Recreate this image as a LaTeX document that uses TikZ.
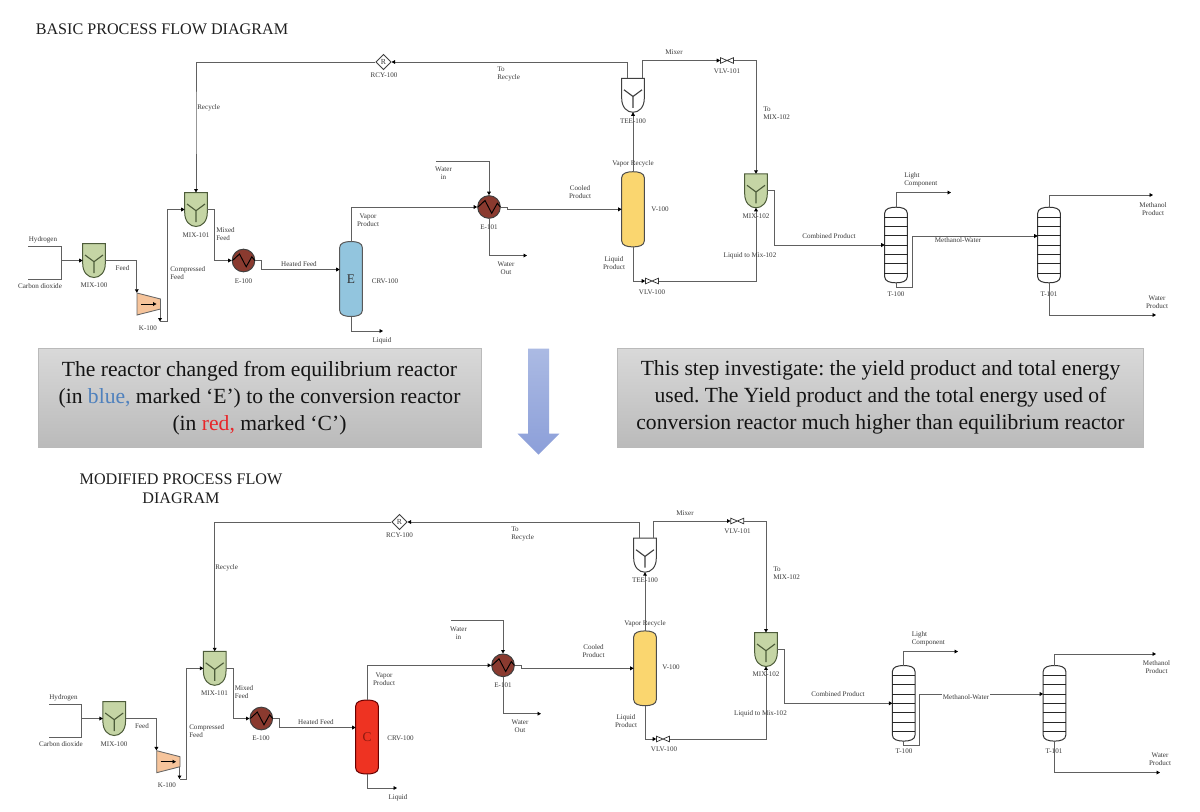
\documentclass[tikz,border=0pt]{standalone}
\usepackage{fontspec}
\setmainfont{Liberation Serif}
\usetikzlibrary{arrows.meta,calc,shapes.geometric}
\newcounter{labn}
\frenchspacing
\definecolor{lineg}{HTML}{606060}
\definecolor{labg}{HTML}{3A3A3A}
\definecolor{mixf}{HTML}{C5D5A5}
\definecolor{mixe}{HTML}{4D5C3A}
\definecolor{compf}{HTML}{F6C49B}
\definecolor{hxf}{HTML}{8A3A2F}
\definecolor{bluef}{HTML}{92C5DE}
\definecolor{redf}{HTML}{EE3322}
\definecolor{yelf}{HTML}{FAD66F}
\definecolor{arrtop}{HTML}{ABBAE3}
\definecolor{arrbot}{HTML}{8C9FD9}
\tikzset{
  x=0.75pt,y=-0.75pt,
  flow/.style={draw=lineg,line width=0.75pt,line join=miter},
  flowa/.style={flow,-{Triangle[length=2.6pt,width=2.8pt,fill=black,color=black]}},
  lbl/.style={inner sep=0pt,text=labg,font=\fontsize{5.3}{6}\selectfont},
  anchorbox/.style={inner sep=0pt,outer sep=0pt,minimum width=16.95pt},
  unitline/.style={line width=0.75pt},
  banner/.style={top color=black!15,bottom color=black!27,draw=black!27,line width=0.6pt},
  bannertext/.style={inner sep=0pt,align=center,text=black!92,font=\fontsize{16.2}{20.3}\selectfont},
  title/.style={inner sep=0pt,align=center,text=black!88,font=\fontsize{12.1}{14}\selectfont},
}
\newcommand{\lab}[3]{\stepcounter{labn}\node[lbl,align=center] (lab\arabic{labn}) at (#1,#2) {#3};}
\newcommand{\labl}[3]{\stepcounter{labn}\node[lbl,align=left,anchor=west] (lab\arabic{labn}) at (#1,#2) {#3};}
% name, x, y, fill, edge
\newcommand{\mixunit}[5]{%
  \node[anchorbox,minimum height=25.5pt] (#1) at (#2,#3) {};
  \begin{scope}[shift={(#2,#3)}]
    \draw[unitline,draw=#5,fill=#4] (-11.3,-17) -- (11.3,-17) -- (11.3,3)
      .. controls (11.3,12) and (6,17) .. (0,17) .. controls (-6,17) and (-11.3,12) .. (-11.3,3) -- cycle;
    \draw[draw=#5,line width=0.85pt] (-9,-5.5) -- (0,1.2) -- (9,-5.5) (0,1.2) -- (0,12.5);
  \end{scope}}
% name, x, y, half height, fill, edge, letter
\newcommand{\drum}[7]{%
  \begin{scope}[shift={(#2,#3)}]
    \draw[unitline,draw=#6,fill=#5] (-11.3,-#4+6) .. controls (-11.3,-#4+1.5) and (-6,-#4) .. (0,-#4)
      .. controls (6,-#4) and (11.3,-#4+1.5) .. (11.3,-#4+6) -- (11.3,#4-6)
      .. controls (11.3,#4-1.5) and (6,#4) .. (0,#4) .. controls (-6,#4) and (-11.3,#4-1.5) .. (-11.3,#4-6) -- cycle;
  \end{scope}
  \node[anchorbox,minimum height=#4*1.5pt,font=\fontsize{10}{10}\selectfont] (#1) at (#2,#3) {#7};}
\newcommand{\column}[3]{%
  \drum{#1}{#2}{#3}{37.8}{white}{black!80}{}
  \begin{scope}[shift={(#2,#3)}]
    \foreach \t in {-28,-18.7,-9.3,0,9.3,18.7,28} \draw[line width=0.65pt,black!85] (-11.6,\t) -- (11.6,\t);
  \end{scope}}
\newcommand{\hx}[3]{%
  \node[circle,inner sep=0pt,minimum size=17pt,draw=black!75,line width=0.75pt,fill=hxf] (#1) at (#2,#3) {};
  \begin{scope}[shift={(#2,#3)}]
    \draw[black,line width=0.7pt] (-11,0) -- (-4,-6.5) -- (2.7,6.3) -- (8.3,-3.7) -- (11.3,0);
  \end{scope}}
\newcommand{\valve}[3]{%
  \node[inner sep=0pt,minimum width=9.8pt,minimum height=4.2pt] (#1) at (#2,#3) {};
  \begin{scope}[shift={(#2,#3)}]
    \draw[line width=0.55pt,black!80,fill=white] (-6.5,-2.8) -- (6.5,2.8) -- (6.5,-2.8) -- (-6.5,2.8) -- cycle;
  \end{scope}}
\newcommand{\recy}[3]{%
  \node[diamond,inner sep=0pt,minimum size=11.5pt,draw=black!75,line width=0.6pt,fill=white,text=labg,font=\fontsize{5.8}{6}\selectfont] (#1) at (#2,#3) {R};}
\newcommand{\comp}[7]{% name, x left, x right, y top-left, y bottom-left, y top-right, y bottom-right
  \node[inner sep=0pt,minimum width=17.5pt,minimum height=16.5pt] (#1) at ({(#2+#3)/2},{(#4+#5)/2}) {};
  \draw[line width=0.65pt,draw=black!60,fill=compf] (#2,#4) -- (#3,#6) -- (#3,#7) -- (#2,#5) -- cycle;
  \draw[-{Triangle[length=2.6pt,width=2.8pt]},line width=0.7pt,black] ({#2+4},{(#4+#5)/2}) -- ({#3-4},{(#4+#5)/2});}
\begin{document}
\begin{tikzpicture}
\useasboundingbox (0,0) rectangle (1200,811);
\fill[white] (0,0) rectangle (1200,811);
% ---------- titles
\node[title] (title1) at (162,29) {BASIC PROCESS FLOW DIAGRAM};
\node[title] (title2) at (181,489) {MODIFIED PROCESS FLOW\\DIAGRAM};
% ---------- banners
\node[banner,inner sep=0pt,minimum width=332.25pt,minimum height=74.5pt] (box1) at (259.5,398) {};
\node[bannertext] (txt1) at (259.5,398.5) {The reactor changed from equilibrium reactor\\(in \textcolor[HTML]{4F81BD}{blue,} marked ‘E’) to the conversion reactor\\(in \textcolor[HTML]{E8262A}{red,} marked ‘C’)};
\node[banner,inner sep=0pt,minimum width=394.5pt,minimum height=74.5pt] (box2) at (880.5,398) {};
\node[bannertext] (txt2) at (880.5,397) {This step investigate: the yield product and total energy\\used. The Yield product and the total energy used of\\conversion reactor much higher than equilibrium reactor};
\path[top color=arrtop,bottom color=arrbot,draw=none]
  (528,348.5) -- (549,348.5) -- (549,433.7) -- (559.3,433.7) -- (538.5,454.5) -- (517.7,433.7) -- (528,433.7) -- cycle;
% ========== UPPER SHEET
\mixunit{am100}{94}{260.5}{mixf}{mixe}
\mixunit{am101}{196}{209.5}{mixf}{mixe}
\mixunit{am102}{756}{190.8}{mixf}{mixe}
\mixunit{atee}{633}{95.3}{white}{black!75}
\comp{ak}{137}{160.5}{293}{315}{299}{309}
\hx{ae100}{243.5}{260.5}
\hx{ae101}{489}{207}
\drum{acrv}{351}{279}{37.5}{bluef}{black!65}{\raisebox{-2.2pt}{\color{black!80}E}}
\drum{av}{633}{209.3}{37.6}{yelf}{black!70}{}
\column{at100}{896}{245}
\column{at101}{1049}{245}
\valve{avlv1}{727}{60.5}
\valve{avlv0}{652}{281}
\recy{arcy}{383.5}{62}
\coordinate (aH) at (28,246.5);
\coordinate (aC) at (28,279);
\coordinate (aJ) at (61,260.5);
\coordinate (akout) at (160,309);
\coordinate (aktip) at (160,321.5);
\coordinate (aWin) at (436,161.5);
\coordinate (aWout) at (527,255.5);
\coordinate (aLiq) at (383,331);
\coordinate (aLight) at (951,192.5);
\coordinate (aMeth) at (1153,195);
\coordinate (aWat) at (1156,315);
\draw[flow] (aH) -- (61,246.5) -- (61,279) -- (aC);
\draw[flowa] (aJ) -- (am100.west);
\draw[flowa] (am100.east) -| (ak.north west);
\draw[flowa] (akout) -- (aktip);
\draw[flowa] (aktip) -- (167,321.5) -- (167,209.5) -- (am101.west);
\draw[flowa] (am101.east) -- (214.5,209.5) -- (214.5,260.5) -- (ae100.west);
\draw[flowa] (ae100.east) -- (261.5,260.5) -- (261.5,269.5) -- ($(acrv.west)+(0,-9.5)$);
\draw[flowa] (acrv.north) -- (351,207) -- (ae101.west);
\draw[flowa] (acrv.south) |- (aLiq);
\draw[flowa] (aWin) -| (ae101.north);
\draw[flowa] (ae101.south) |- (aWout);
\draw[flowa] (ae101.east) -- (507,207) -- (507,209.3) -- (av.west);
\draw[flowa] (av.north) -- (atee.south);
\draw[flowa] ($(atee.north)+(-6,0)$) |- (arcy.east);
\draw[flowa] (arcy.west) -| (196,120) -- (am101.north);
\draw[flowa] ($(atee.north)+(9,0)$) |- (avlv1.west);
\draw[flowa] (avlv1.east) -| (am102.north);
\draw[flowa] (av.south) |- (avlv0.west);
\draw[flowa] (avlv0.east) -| (am102.south);
\draw[flowa] (am102.east) -- (774.5,190.8) -- (774.5,245) -- (at100.west);
\draw[flowa] (at100.north) |- (aLight);
\draw[flowa] (at100.south) -- (896,287.5) -- (912,287.5) -- (912,236) -- ($(at101.west)+(0,-9)$);
\draw[flowa] (at101.north) |- (aMeth);
\draw[flowa] (at101.south) |- (aWat);
\lab{43}{240}{Hydrogen}
\lab{40}{286.5}{Carbon dioxide}
\lab{94}{285.5}{MIX-100}
\lab{122.5}{268}{Feed}
\lab{148}{328}{K-100}
\labl{170}{273.5}{Compressed\\Feed}
\lab{196}{235}{MIX-101}
\labl{216}{234}{Mixed\\Feed}
\lab{243.5}{281}{E-100}
\lab{299}{264}{Heated Feed}
\lab{368}{220.5}{Vapor\\Product}
\lab{385}{281.5}{CRV-100}
\lab{382}{341}{Liquid}
\labl{197}{107.5}{Recycle}
\lab{384}{75.5}{RCY-100}
\labl{497}{74}{To\\Recycle}
\lab{674}{52}{Mixer}
\lab{727}{71.5}{VLV-101}
\labl{763}{113.5}{To\\MIX-102}
\lab{633}{121}{TEE-100}
\lab{633}{164}{Vapor Recycle}
\lab{443.5}{173.5}{Water\\in}
\lab{580}{192.5}{Cooled\\Product}
\lab{660}{209.5}{V-100}
\lab{489}{227.5}{E-101}
\lab{506}{268}{Water\\Out}
\lab{614}{263.5}{Liquid\\Product}
\lab{652}{292}{VLV-100}
\lab{750}{255.5}{Liquid to Mix-102}
\lab{756}{216.5}{MIX-102}
\lab{829}{236}{Combined Product}
\labl{904}{180}{Light\\Component}
\lab{958}{240}{Methanol-Water}
\lab{896}{294}{T-100}
\lab{1049}{294}{T-101}
\lab{1153}{209}{Methanol\\Product}
\lab{1157}{302}{Water\\Product}
% ========== LOWER SHEET
\mixunit{bm100}{114.2}{718.5}{mixf}{mixe}
\mixunit{bm101}{214.7}{668.3}{mixf}{mixe}
\mixunit{bm102}{766}{649.5}{mixf}{mixe}
\mixunit{btee}{645}{555.2}{white}{black!75}
\comp{bk}{156.7}{180}{750.7}{772.7}{756.7}{766.7}
\hx{be100}{261.3}{718.5}
\hx{be101}{503}{665.3}
\drum{bcrv}{367}{737}{37}{redf}{black!60!red}{\raisebox{-2.2pt}{\color[HTML]{8B1A10}C}}
\drum{bv}{645}{668.3}{37.4}{yelf}{black!70}{}
\column{bt100}{903.7}{703.3}
\column{bt101}{1054.5}{703.3}
\valve{bvlv1}{737.3}{521}
\valve{bvlv0}{663}{739}
\recy{brcy}{399.5}{522}
\coordinate (bH) at (49,704.5);
\coordinate (bC) at (49,737);
\coordinate (bJ) at (81.5,718.5);
\coordinate (bkout) at (179.5,767);
\coordinate (bktip) at (179.5,779);
\coordinate (bWin) at (451,620.7);
\coordinate (bWout) at (541,713.7);
\coordinate (bLiq) at (397,788);
\coordinate (bLight) at (958,651.5);
\coordinate (bMeth) at (1156,654);
\coordinate (bWat) at (1160,772.5);
\draw[flow] (bH) -- (81.5,704.5) -- (81.5,737) -- (bC);
\draw[flowa] (bJ) -- (bm100.west);
\draw[flowa] (bm100.east) -| (bk.north west);
\draw[flowa] (bkout) -- (bktip);
\draw[flowa] (bktip) -- (186,779) -- (186,668.3) -- (bm101.west);
\draw[flowa] (bm101.east) -- (233,668.3) -- (233,718.5) -- (be100.west);
\draw[flowa] (be100.east) -- (279.5,718.5) -- (279.5,727.5) -- ($(bcrv.west)+(0,-9.5)$);
\draw[flowa] (bcrv.north) -- (367,665.3) -- (be101.west);
\draw[flowa] (bcrv.south) |- (bLiq);
\draw[flowa] (bWin) -| (be101.north);
\draw[flowa] (be101.south) |- (bWout);
\draw[flowa] (be101.east) -- (521,665.3) -- (521,668.3) -- (bv.west);
\draw[flowa] (bv.north) -- (btee.south);
\draw[flowa] ($(btee.north)+(-6,0)$) |- (brcy.east);
\draw[flowa] (brcy.west) -| (214.7,620) -- (bm101.north);
\draw[flowa] ($(btee.north)+(8.5,0)$) |- (bvlv1.west);
\draw[flowa] (bvlv1.east) -| (bm102.north);
\draw[flowa] (bv.south) |- (bvlv0.west);
\draw[flowa] (bvlv0.east) -| (bm102.south);
\draw[flowa] (bm102.east) -- (784,649.5) -- (784,703.3) -- (bt100.west);
\draw[flowa] (bt100.north) |- (bLight);
\draw[flowa] (bt100.south) -- (903.7,745.5) -- (919.3,745.5) -- (919.3,694) -- ($(bt101.west)+(0,-9.3)$);
\draw[flowa] (bt101.north) |- (bMeth);
\draw[flowa] (bt101.south) |- (bWat);
\lab{63.5}{697.7}{Hydrogen}
\lab{61}{744.5}{Carbon dioxide}
\lab{114}{744}{MIX-100}
\lab{142}{726}{Feed}
\lab{167}{785.5}{K-100}
\labl{189}{731.5}{Compressed\\Feed}
\lab{214.5}{693}{MIX-101}
\labl{234.5}{692.3}{Mixed\\Feed}
\lab{261}{738.5}{E-100}
\lab{316}{722}{Heated Feed}
\lab{384}{679.3}{Vapor\\Product}
\lab{400.5}{738.5}{CRV-100}
\lab{398}{797.5}{Liquid}
\labl{215}{567.5}{Recycle}
\lab{399.5}{535}{RCY-100}
\labl{511}{534}{To\\Recycle}
\lab{685}{513}{Mixer}
\lab{737.5}{531.5}{VLV-101}
\labl{773}{572.8}{To\\MIX-102}
\lab{645}{580.3}{TEE-100}
\lab{645}{623.5}{Vapor Recycle}
\lab{458.5}{632.8}{Water\\in}
\lab{593.5}{651.3}{Cooled\\Product}
\lab{671}{667.5}{V-100}
\lab{503}{685.5}{E-101}
\lab{520}{726}{Water\\Out}
\lab{626}{721.3}{Liquid\\Product}
\lab{664}{749.5}{VLV-100}
\lab{760.5}{714}{Liquid to Mix-102}
\lab{766}{674.5}{MIX-102}
\lab{838}{694}{Combined Product}
\labl{911.5}{638.5}{Light\\Component}
\node[lbl,fill=white,inner ysep=1pt,inner xsep=0.5pt] (labmw) at (966,697) {Methanol-Water};
\lab{904}{751.5}{T-100}
\lab{1054}{751.5}{T-101}
\lab{1156.5}{667.5}{Methanol\\Product}
\lab{1160}{759.5}{Water\\Product}
\end{tikzpicture}
\end{document}
